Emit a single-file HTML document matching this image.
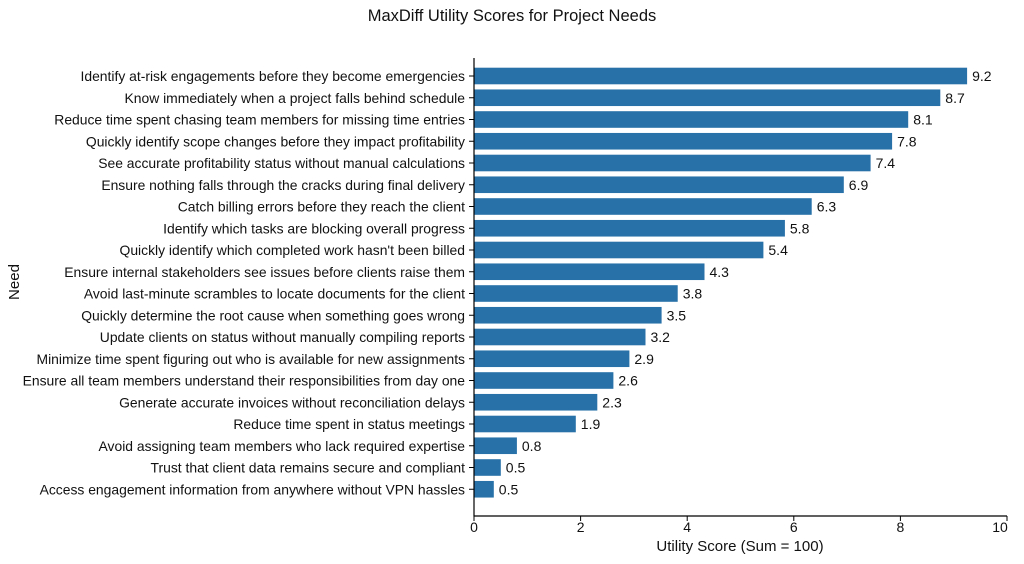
<!DOCTYPE html>
<html><head><meta charset="utf-8"><style>
body{margin:0;background:#fff}
svg text{font-family:"Liberation Sans","DejaVu Sans",sans-serif;fill:#111}
</style></head><body>
<svg width="1024" height="559" xmlns="http://www.w3.org/2000/svg">
<text x="512" y="21" text-anchor="middle" font-size="16.5">MaxDiff Utility Scores for Project Needs</text>
<text x="19" y="282" text-anchor="middle" font-size="15" transform="rotate(-90 19 282)">Need</text>
<text x="740" y="551" text-anchor="middle" font-size="15">Utility Score (Sum = 100)</text>
<g fill="#2870a8">
<rect x="474" y="67.7" width="493.1" height="16.6"/>
<rect x="474" y="89.45" width="466.3" height="16.6"/>
<rect x="474" y="111.2" width="434.2" height="16.6"/>
<rect x="474" y="132.95" width="418.1" height="16.6"/>
<rect x="474" y="154.7" width="396.6" height="16.6"/>
<rect x="474" y="176.45" width="369.8" height="16.6"/>
<rect x="474" y="198.2" width="337.7" height="16.6"/>
<rect x="474" y="219.95" width="310.9" height="16.6"/>
<rect x="474" y="241.7" width="289.4" height="16.6"/>
<rect x="474" y="263.45" width="230.5" height="16.6"/>
<rect x="474" y="285.2" width="203.7" height="16.6"/>
<rect x="474" y="306.95" width="187.6" height="16.6"/>
<rect x="474" y="328.7" width="171.5" height="16.6"/>
<rect x="474" y="350.45" width="155.4" height="16.6"/>
<rect x="474" y="372.2" width="139.4" height="16.6"/>
<rect x="474" y="393.95" width="123.3" height="16.6"/>
<rect x="474" y="415.7" width="101.8" height="16.6"/>
<rect x="474" y="437.45" width="42.9" height="16.6"/>
<rect x="474" y="459.2" width="26.8" height="16.6"/>
<rect x="474" y="480.95" width="19.8" height="16.6"/>
</g>
<g font-size="14">
<text x="972.1" y="81">9.2</text>
<text x="945.3" y="102.75">8.7</text>
<text x="913.2" y="124.5">8.1</text>
<text x="897.1" y="146.25">7.8</text>
<text x="875.6" y="168">7.4</text>
<text x="848.8" y="189.75">6.9</text>
<text x="816.7" y="211.5">6.3</text>
<text x="789.9" y="233.25">5.8</text>
<text x="768.4" y="255">5.4</text>
<text x="709.5" y="276.75">4.3</text>
<text x="682.7" y="298.5">3.8</text>
<text x="666.6" y="320.25">3.5</text>
<text x="650.5" y="342">3.2</text>
<text x="634.4" y="363.75">2.9</text>
<text x="618.4" y="385.5">2.6</text>
<text x="602.3" y="407.25">2.3</text>
<text x="580.8" y="429">1.9</text>
<text x="521.9" y="450.75">0.8</text>
<text x="505.8" y="472.5">0.5</text>
<text x="498.8" y="494.25">0.5</text>
</g>
<g stroke="#000">
<line x1="469" y1="76" x2="474" y2="76"/><line x1="469" y1="97.75" x2="474" y2="97.75"/><line x1="469" y1="119.5" x2="474" y2="119.5"/><line x1="469" y1="141.25" x2="474" y2="141.25"/><line x1="469" y1="163" x2="474" y2="163"/><line x1="469" y1="184.75" x2="474" y2="184.75"/><line x1="469" y1="206.5" x2="474" y2="206.5"/><line x1="469" y1="228.25" x2="474" y2="228.25"/><line x1="469" y1="250" x2="474" y2="250"/><line x1="469" y1="271.75" x2="474" y2="271.75"/><line x1="469" y1="293.5" x2="474" y2="293.5"/><line x1="469" y1="315.25" x2="474" y2="315.25"/><line x1="469" y1="337" x2="474" y2="337"/><line x1="469" y1="358.75" x2="474" y2="358.75"/><line x1="469" y1="380.5" x2="474" y2="380.5"/><line x1="469" y1="402.25" x2="474" y2="402.25"/><line x1="469" y1="424" x2="474" y2="424"/><line x1="469" y1="445.75" x2="474" y2="445.75"/><line x1="469" y1="467.5" x2="474" y2="467.5"/><line x1="469" y1="489.25" x2="474" y2="489.25"/>
</g>
<g font-size="13.9" text-anchor="end">
<text x="465" y="81">Identify at-risk engagements before they become emergencies</text>
<text x="465" y="102.75">Know immediately when a project falls behind schedule</text>
<text x="465" y="124.5">Reduce time spent chasing team members for missing time entries</text>
<text x="465" y="146.25">Quickly identify scope changes before they impact profitability</text>
<text x="465" y="168">See accurate profitability status without manual calculations</text>
<text x="465" y="189.75">Ensure nothing falls through the cracks during final delivery</text>
<text x="465" y="211.5">Catch billing errors before they reach the client</text>
<text x="465" y="233.25">Identify which tasks are blocking overall progress</text>
<text x="465" y="255">Quickly identify which completed work hasn't been billed</text>
<text x="465" y="276.75">Ensure internal stakeholders see issues before clients raise them</text>
<text x="465" y="298.5">Avoid last-minute scrambles to locate documents for the client</text>
<text x="465" y="320.25">Quickly determine the root cause when something goes wrong</text>
<text x="465" y="342">Update clients on status without manually compiling reports</text>
<text x="465" y="363.75">Minimize time spent figuring out who is available for new assignments</text>
<text x="465" y="385.5">Ensure all team members understand their responsibilities from day one</text>
<text x="465" y="407.25">Generate accurate invoices without reconciliation delays</text>
<text x="465" y="429">Reduce time spent in status meetings</text>
<text x="465" y="450.75">Avoid assigning team members who lack required expertise</text>
<text x="465" y="472.5">Trust that client data remains secure and compliant</text>
<text x="465" y="494.25">Access engagement information from anywhere without VPN hassles</text>
</g>
<line x1="474" y1="58" x2="474" y2="516.5" stroke="#000" stroke-width="1.2"/>
<line x1="473.5" y1="516" x2="1007" y2="516" stroke="#000" stroke-width="1.2"/>
<g font-size="14" text-anchor="middle">
<line x1="474" y1="516" x2="474" y2="521" stroke="#000"/><text x="474" y="532">0</text>
<line x1="580.6" y1="516" x2="580.6" y2="521" stroke="#000"/><text x="580.6" y="532">2</text>
<line x1="687.2" y1="516" x2="687.2" y2="521" stroke="#000"/><text x="687.2" y="532">4</text>
<line x1="793.8" y1="516" x2="793.8" y2="521" stroke="#000"/><text x="793.8" y="532">6</text>
<line x1="900.4" y1="516" x2="900.4" y2="521" stroke="#000"/><text x="900.4" y="532">8</text>
<line x1="1007" y1="516" x2="1007" y2="521" stroke="#000"/><text x="1000" y="532">10</text>
</g>
</svg>
</body></html>
